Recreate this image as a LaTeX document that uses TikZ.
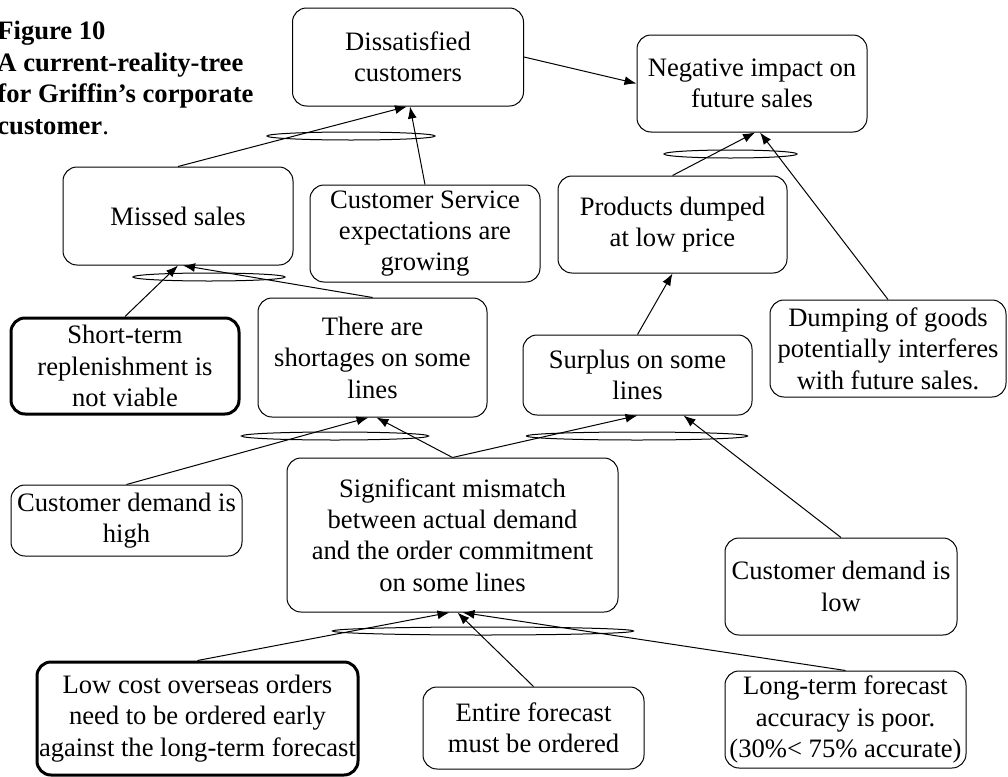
\documentclass[tikz,border=0pt]{standalone}
\usepackage{fontspec}
\setmainfont{Liberation Serif}
\usetikzlibrary{arrows.meta,calc,shapes.geometric}
\newcommand{\crtfont}{\fontsize{13.3}{15.7}\selectfont}
\tikzset{
  box/.style={draw, rounded corners=7pt, align=center, inner sep=0.5pt, line width=0.5pt, font=\crtfont},
  keybox/.style={box, line width=1.5pt},
  andlink/.style={draw, ellipse, inner sep=0pt, minimum height=4pt, line width=0.5pt},
  causes/.style={-{Latex[length=6pt,width=4.5pt]}, line width=0.5pt}
}
\begin{document}
\begin{tikzpicture}
[x = 0.5pt,
y = -0.5pt]
\useasboundingbox (0,0) rectangle (1008,777);

\node[font=\crtfont\bfseries, align=left, anchor=west, inner sep=0pt] (title) at (-3,78) {Figure 10\\A current-reality-tree\\for Griffin's corporate\\customer\mdseries.};

\node[box, minimum width=115.5pt, minimum height=49pt] (diss) at (408,57) {Dissatisfied\\customers};
\node[box, minimum width=115pt, minimum height=48.5pt] (neg) at (752,83.5) {Negative impact on\\future sales};
\node[box, minimum width=115pt, minimum height=49pt] (missed) at (178,216) {Missed sales};
\node[box, minimum width=115pt, minimum height=48.5pt] (service) at (425,233.5) {Customer Service\\expectations are\\growing};
\node[keybox, minimum width=114pt, minimum height=48pt] (short) at (125,366) {Short-term\\replenishment is\\not viable};
\node[box, minimum width=114.5pt, minimum height=59.5pt] (shortage) at (372.5,357.5) {There are\\shortages on some\\lines};
\node[box, minimum width=114.5pt, minimum height=48.5pt] (dumped) at (672.5,224.5) {Products dumped\\at low price};
\node[box, minimum width=114.5pt, minimum height=40pt] (surplus) at (637.5,375) {Surplus on some\\lines};
\node[box, minimum width=118pt, minimum height=48.5pt] (dumping) at (888,348.5) {Dumping of goods\\potentially interferes\\with future sales.};
\node[box, minimum width=115.5pt, minimum height=35.5pt] (high) at (126.5,520.5) {Customer demand is\\high};
\node[box, minimum width=165.5pt, minimum height=77pt] (mismatch) at (452.5,535) {Significant mismatch\\between actual demand\\and the order commitment\\on some lines};
\node[box, minimum width=116pt, minimum height=48.5pt] (low) at (841,586.5) {Customer demand is\\low};
\node[keybox, minimum width=160.5pt, minimum height=56.5pt] (lowcost) at (197.5,718.5) {Low cost overseas orders\\need to be ordered early\\against the long-term forecast};
\node[box, minimum width=110.5pt, minimum height=41pt] (entire) at (533.5,728) {Entire forecast\\must be ordered};
\node[box, minimum width=120.5pt, minimum height=48.5pt] (longterm) at (845.5,719.5) {Long-term forecast\\accuracy is poor.\\(30\%< 75\% accurate)};

\node[andlink, minimum width=84pt] (and1) at (351,136) {};
\node[andlink, minimum width=66.5pt] (and2) at (730.5,154) {};
\node[andlink, minimum width=76pt] (and3) at (209,277) {};
\node[andlink, minimum width=93.5pt] (and4) at (335,436) {};
\node[andlink, minimum width=110.5pt] (and5) at (637,436) {};
\node[andlink, minimum width=150.5pt] (and6) at (483,631) {};

\draw[causes] (missed.north) -- ($(diss.south)+(-1,0)$);
\draw[causes] (service.north) -- ($(diss.south)+(2,0)$);
\draw[causes] (diss.east) -- (neg.west);
\draw[causes] (dumped.north) -- ($(neg.south)+(3,0)$);
\draw[causes] (dumping.north) -- ($(neg.south)+(8,0)$);
\draw[causes] (short.north) -- (missed.south);
\draw[causes] (shortage.north) -- ($(missed.south)+(5,0)$);
\draw[causes] (high.north) -- ($(shortage.south)+(-4,0)$);
\draw[causes] (mismatch.north) -- ($(shortage.south)+(4,0)$);
\draw[causes] (mismatch.north) -- (surplus.south);
\draw[causes] (low.north) -- ($(surplus.south)+(46,0)$);
\draw[causes] (surplus.north) -- (dumped.south);
\draw[causes] (lowcost.north) -- ($(mismatch.south)+(-3,0)$);
\draw[causes] (entire.north) -- ($(mismatch.south)+(5,0)$);
\draw[causes] (longterm.north) -- ($(mismatch.south)+(10,0)$);
\end{tikzpicture}
\end{document}
